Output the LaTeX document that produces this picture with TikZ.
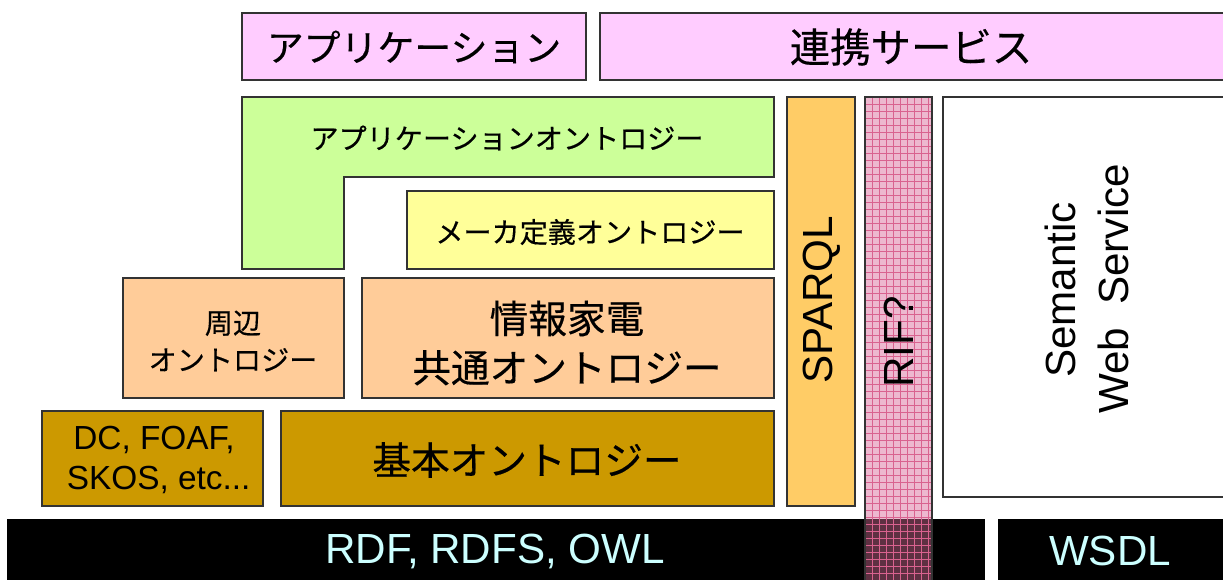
\documentclass[tikz,border=0pt]{standalone}
\usepackage{fontspec}
\setmainfont{Liberation Sans}
\newfontfamily\jp[FakeBold=0.4]{Noto Sans CJK JP}
\definecolor{cpink}{HTML}{FFCCFF}
\definecolor{cgreen}{HTML}{CCFF99}
\definecolor{cyel}{HTML}{FFFF99}
\definecolor{corange}{HTML}{FFCC99}
\definecolor{cgold}{HTML}{CC9900}
\definecolor{csparql}{HTML}{FFCC66}
\definecolor{crif}{HTML}{EDB8CF}
\definecolor{crifdark}{HTML}{5E3042}
\definecolor{cgrid}{HTML}{D9628F}
\definecolor{cline}{HTML}{333333}
\definecolor{ccyan}{HTML}{CCFFFF}
\begin{document}
\begin{tikzpicture}[x=0.02cm,y=-0.02cm,
  box/.style={draw=cline,line width=1.1pt},
  lbl/.style={inner sep=0pt,align=center},
  jpbig/.style={lbl,font=\jp\fontsize{21}{25}\selectfont},
  jpmid/.style={lbl,font=\jp\fontsize{16}{21}\selectfont},
  jplarge/.style={lbl,font=\jp\fontsize{22}{28}\selectfont},
  latin/.style={lbl,font=\fontsize{24}{30}\selectfont},
]
\useasboundingbox (0,0) rectangle (1223,579);
% top row
\draw[box,fill=cpink] (242,13) rectangle (586,80);
\node[jpbig] (app) at (414,47) {アプリケーション};
\draw[box,fill=cpink] (600,13) rectangle (1240,80);
\node[jpbig,font=\jp\fontsize{23}{27}\selectfont] (renkei) at (911,47) {連携サービス};
% green L shape
\draw[box,fill=cgreen] (242,97) -- (774,97) -- (774,177) -- (344,177) -- (344,269) -- (242,269) -- cycle;
\node[jpmid] (appont) at (507,138) {アプリケーションオントロジー};
% maker
\draw[box,fill=cyel] (407,191) rectangle (774,269);
\node[jpmid] (maker) at (590,232) {メーカ定義オントロジー};
% peripheral
\draw[box,fill=corange] (123,278) rectangle (344,398);
\node[jpmid] (shuhen) at (233,341) {周辺\\オントロジー};
\draw[box,fill=corange] (362,278) rectangle (774,398);
\node[jplarge] (joho) at (567,343) {情報家電\\共通オントロジー};
% base
\draw[box,fill=cgold] (42,411) rectangle (263,506);
\node[lbl,font=\fontsize{19}{22.5}\selectfont] (dc) at (154,460) {DC, FOAF,\\\ SKOS, etc...};
\draw[box,fill=cgold] (281,411) rectangle (774,506);
\node[jplarge] (kihon) at (527,460) {基本オントロジー};
% SPARQL
\draw[box,fill=csparql] (787,97) rectangle (855,506);
\node[latin,rotate=90] (sparql) at (822,300) {SPARQL};
% Semantic web service
\draw[box,fill=white] (943,97) rectangle (1240,497);
\node[latin,rotate=90] (sem) at (1060,290) {Semantic};
\node[latin,rotate=90] (wss) at (1113,289) {Web\ \ Service};
% bottom bars
\fill[black] (7,519) rectangle (985,590);
\node[latin,text=ccyan] (rdf) at (495,551) {RDF, RDFS, OWL};
\fill[black] (998,519) rectangle (1240,590);
\node[latin,text=ccyan] (wsdl) at (1110,551) {WSDL};
% RIF column
\fill[crif] (865,97) rectangle (932,519);
\fill[crifdark] (865,519) rectangle (932,590);
\begin{scope}
\clip (865,97) rectangle (932,590);
\foreach \gx in {872,879,...,932} \draw[cgrid,line width=0.5pt] (\gx,97) -- (\gx,590);
\foreach \gy in {104,111,...,590} \draw[cgrid,line width=0.5pt] (865,\gy) -- (932,\gy);
\end{scope}
\draw[cline,line width=1.1pt] (865,590) -- (865,97) -- (932,97) -- (932,590);
\node[latin,rotate=90] (rif) at (899,342) {RIF?};
\end{tikzpicture}
\end{document}
